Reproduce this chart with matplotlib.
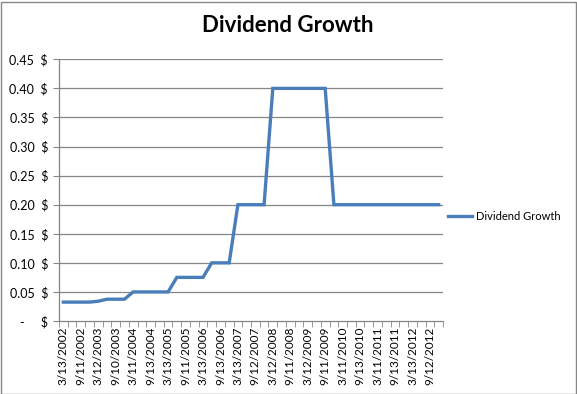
import matplotlib
matplotlib.use('Agg')
import matplotlib.pyplot as plt
from matplotlib.patches import Rectangle

# Quarterly dividend per share (44 quarters, 3/2002 .. 12/2012)
dividends = [0.0325, 0.0325, 0.0325, 0.0325,
             0.034,
             0.0375, 0.0375, 0.0375,
             0.05, 0.05, 0.05, 0.05, 0.05,
             0.075, 0.075, 0.075, 0.075,
             0.10, 0.10, 0.10,
             0.20, 0.20, 0.20, 0.20,
             0.40, 0.40, 0.40, 0.40, 0.40, 0.40, 0.40,
             0.20, 0.20, 0.20, 0.20, 0.20, 0.20, 0.20, 0.20, 0.20, 0.20, 0.20, 0.20, 0.20]

# every other quarter gets a label
date_labels = ['3/13/2002', '9/11/2002', '3/12/2003', '9/10/2003', '3/11/2004',
               '9/13/2004', '3/13/2005', '9/11/2005', '3/13/2006', '9/13/2006',
               '3/13/2007', '9/12/2007', '3/12/2008', '9/11/2008', '3/12/2009',
               '9/11/2009', '3/11/2010', '9/13/2010', '3/11/2011', '9/13/2011',
               '3/13/2012', '9/12/2012']

y_ticks = [0, 0.05, 0.10, 0.15, 0.20, 0.25, 0.30, 0.35, 0.40, 0.45]

W, H = 577, 394
fig = plt.figure(figsize=(W / 100, H / 100), dpi=100)
plt.rcParams['font.family'] = ['Lato', 'DejaVu Sans']

ax = fig.add_axes([59 / W, 1 - 321 / H, 384 / W, (321 - 59.3) / H])

n = len(dividends)
xs = [i + 0.5 for i in range(n)]
ax.plot(xs, dividends, color='#4A7EBB', lw=2.4, solid_joinstyle='miter',
        label='Dividend Growth')

ax.set_xlim(0, n)
ax.set_ylim(0, 0.45)

# gridlines
for v in y_ticks[1:]:
    ax.axhline(v, color='#868686', lw=0.9, zorder=0)

ax.set_yticks(y_ticks)
ax.set_yticklabels(['-     $' if v == 0 else f'{v:.2f}  $' for v in y_ticks], fontsize=9)

# minor ticks at category boundaries, labels on every second category
ax.set_xticks(range(n + 1), minor=True)
ax.set_xticks([x for x in xs[::2]])
ax.set_xticklabels(date_labels, rotation=90, fontsize=8.5)
ax.tick_params(axis='x', which='major', length=0, pad=4)
ax.tick_params(axis='x', which='minor', length=4, color='#868686')
ax.tick_params(axis='y', length=4, color='#868686', pad=4)

for s in ['top', 'right']:
    ax.spines[s].set_visible(False)
for s in ['left', 'bottom']:
    ax.spines[s].set_color('#868686')
    ax.spines[s].set_linewidth(0.9)

fig.text(288 / W, 1 - 26 / H, 'Dividend Growth', ha='center', va='center',
         fontsize=16, fontweight='bold')

ax.legend(loc='center left', bbox_to_anchor=(438 / W, 1 - 216 / H),
          bbox_transform=fig.transFigure, frameon=False, fontsize=8,
          handlelength=2.2, handletextpad=0.3)

fig.patches.append(Rectangle((0.5 / W, 0.5 / H), 1 - 2 / W, 1 - 2 / H,
                             transform=fig.transFigure, fill=False,
                             edgecolor='#868686', lw=1))

fig.savefig('out.png', dpi=100)
